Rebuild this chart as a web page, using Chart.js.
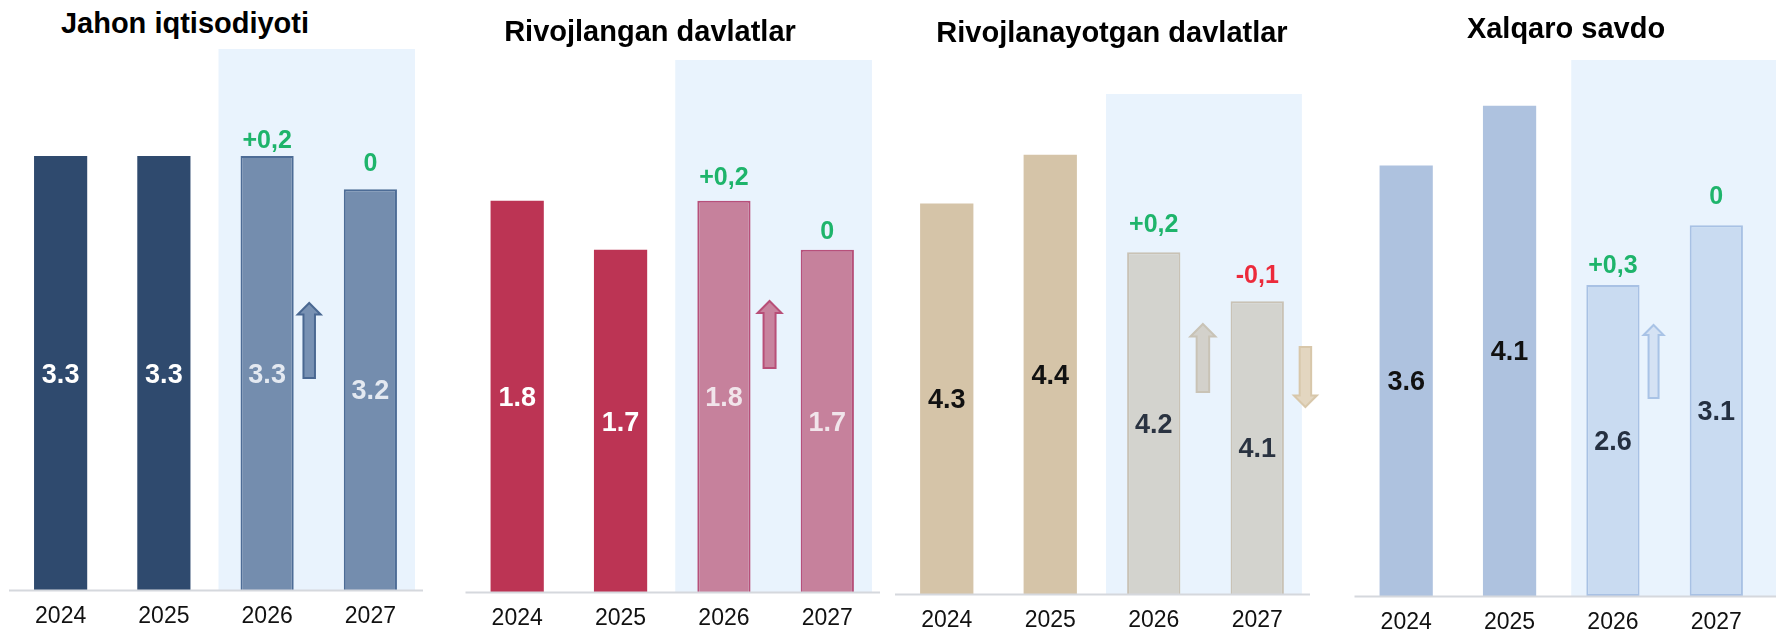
<!DOCTYPE html>
<html>
<head>
<meta charset="utf-8">
<script src="https://cdn.jsdelivr.net/npm/chart.js@4.4.1/dist/chart.umd.min.js"></script>
<style>
  html, body { margin: 0; padding: 0; background: #fff; }
  #wrap { position: relative; width: 1776px; height: 634px; overflow: hidden; }
  #wrap canvas { position: absolute; top: 0; }
  .title {
    position: absolute; width: 500px; text-align: center; white-space: nowrap;
    font: bold 29px "Liberation Sans", Arial, sans-serif; line-height: 29px; color: #000;
  }
</style>
</head>
<body>
<div id="wrap"></div>
<script>
const years = ['2024', '2025', '2026', '2027'];
const titles = ['Jahon iqtisodiyoti', 'Rivojlangan davlatlar', 'Rivojlanayotgan davlatlar', 'Xalqaro savdo'];

// o'sish sur'atlari, %
const worldGrowth = [3.3, 3.3, 3.3, 3.2];
const advancedGrowth = [1.8, 1.7, 1.8, 1.7];
const emergingGrowth = [4.3, 4.4, 4.2, 4.1];
const tradeGrowth = [3.6, 4.1, 2.6, 3.1];

// oldingi prognozga nisbatan o'zgarish (faqat prognoz yillari)
const worldChange = [null, null, 0.2, 0];
const advancedChange = [null, null, 0.2, 0];
const emergingChange = [null, null, 0.2, -0.1];
const tradeChange = [null, null, 0.3, 0];

// first two years are actual, last two are forecast
const forecastFrom = 2;

Chart.defaults.font.family = '"Liberation Sans", Arial, sans-serif';

const panels = [
    {
        title: titles[0], values: worldGrowth, change: worldChange,
        left: 0, width: 440, padL: 9, padR: 18, bottom: 590, yMin: 2.0, yMax: 3.647,
        titleX: 185, titleBase: 33,
        color: '#2F4A6E', fcColor: '#748DAE', fcBorder: '#4D6C96',
        text: '#FFFFFF', fcText: '#E4E9F1',
        shadeTop: 49, shadeInset: 3, shadeToEdge: false,
        lift: [0, 0, 17, 27],
        arrows: [{ bar: 2, dx: 15.5, top: 303, bottom: 378, w: 23, fill: '#7891B3', stroke: '#4A6892' }]
    },
    {
        title: titles[1], values: advancedGrowth, change: advancedChange,
        left: 440, width: 447, padL: 25.5, padR: 8, bottom: 592, yMin: 1.0, yMax: 2.129,
        titleX: 650, titleBase: 41,
        color: '#BC3454', fcColor: '#C6819C', fcBorder: '#B7507A',
        text: '#FFFFFF', fcText: '#F1E5EB',
        shadeTop: 60, shadeInset: 3, shadeToEdge: false,
        lift: [0, 0, 25, 20],
        arrows: [{ bar: 2, dx: 19, top: 301, bottom: 368, w: 24, fill: '#C8839E', stroke: '#B84F78' }]
    },
    {
        title: titles[2], values: emergingGrowth, change: emergingChange,
        left: 887, width: 453, padL: 8, padR: 31, bottom: 594, yMin: 3.5, yMax: 4.635,
        titleX: 1112, titleBase: 42,
        color: '#D5C4A8', fcColor: '#D3D3CE', fcBorder: '#C9C2B5',
        text: '#111111', fcText: '#2A3341',
        shadeTop: 94, shadeInset: 4, shadeToEdge: false,
        lift: [0, 0, 29, 27],
        arrows: [
            { bar: 2, dx: 22.5, top: 324, bottom: 392, w: 25, fill: '#D3D1CB', stroke: '#C9C3B6' },
            { bar: 3, dx: 21.5, top: 347, bottom: 407, w: 23, fill: '#E3D6C0', stroke: '#D8C7AA' }
        ]
    },
    {
        title: titles[3], values: tradeGrowth, change: tradeChange,
        left: 1340, width: 436, padL: 14.5, padR: 8, bottom: 596, yMin: 0, yMax: 4.649,
        titleX: 1566, titleBase: 38,
        color: '#AEC2DF', fcColor: '#C9DBF1', fcBorder: '#A8C1E4',
        text: '#111111', fcText: '#253041',
        shadeTop: 60, shadeInset: 10, shadeToEdge: true,
        lift: [0, 0, 21, 30],
        arrows: [{ bar: 2, dx: 14, top: 325, bottom: 398, w: 20, fill: '#D5E2F4', stroke: '#A9C3E6' }]
    }
];

function formatChange(v) {
    if (v === 0) return '0';
    return (v > 0 ? '+' : '-') + Math.abs(v).toFixed(1).replace('.', ',');
}

function drawArrow(ctx, cx, top, bottom, up, w, fill, stroke) {
    const s = w * 0.5;    // shaft
    const h = w * 0.5;    // head height
    ctx.beginPath();
    if (up) {
        ctx.moveTo(cx, top);
        ctx.lineTo(cx + w / 2, top + h);
        ctx.lineTo(cx + s / 2, top + h);
        ctx.lineTo(cx + s / 2, bottom);
        ctx.lineTo(cx - s / 2, bottom);
        ctx.lineTo(cx - s / 2, top + h);
        ctx.lineTo(cx - w / 2, top + h);
    } else {
        ctx.moveTo(cx, bottom);
        ctx.lineTo(cx + w / 2, bottom - h);
        ctx.lineTo(cx + s / 2, bottom - h);
        ctx.lineTo(cx + s / 2, top);
        ctx.lineTo(cx - s / 2, top);
        ctx.lineTo(cx - s / 2, bottom - h);
        ctx.lineTo(cx - w / 2, bottom - h);
    }
    ctx.closePath();
    ctx.fillStyle = fill;
    ctx.fill();
    ctx.lineWidth = 2;
    ctx.strokeStyle = stroke;
    ctx.stroke();
}

const panelDecor = {
    id: 'panelDecor',
    beforeDatasetsDraw(chart) {
        const p = chart.options.plugins.panelDecor.panel;
        const bars = chart.getDatasetMeta(0).data;
        const area = chart.chartArea;
        const ctx = chart.ctx;
        // forecast band
        const left = (bars[forecastFrom - 1].x + bars[forecastFrom].x) / 2 + p.shadeInset;
        const last = bars[bars.length - 1];
        const right = p.shadeToEdge ? chart.width : last.x + last.width / 2 + 18;
        ctx.save();
        ctx.fillStyle = '#E9F3FD';
        ctx.fillRect(left, p.shadeTop, right - left, area.bottom - p.shadeTop);
        ctx.restore();
    },
    afterDatasetsDraw(chart) {
        const p = chart.options.plugins.panelDecor.panel;
        const bars = chart.getDatasetMeta(0).data;
        const area = chart.chartArea;
        const ctx = chart.ctx;
        ctx.save();

        // base line
        ctx.strokeStyle = '#D5D8DD';
        ctx.lineWidth = 2;
        ctx.beginPath();
        ctx.moveTo(area.left, area.bottom + 0.5);
        ctx.lineTo(p.shadeToEdge ? chart.width : area.right + 1, area.bottom + 0.5);
        ctx.stroke();

        ctx.textAlign = 'center';
        ctx.textBaseline = 'alphabetic';

        // values inside bars (the bar base can sit below the visible axis)
        ctx.font = 'bold 27px "Liberation Sans", Arial, sans-serif';
        bars.forEach((bar, i) => {
            const mid = (bar.y + Math.min(bar.base, area.bottom)) / 2;
            ctx.fillStyle = i >= forecastFrom ? p.fcText : p.text;
            ctx.fillText(p.values[i].toFixed(1), bar.x, mid + 27 * 0.716 / 2);
        });

        // revisions above forecast bars
        ctx.font = 'bold 25px "Liberation Sans", Arial, sans-serif';
        p.change.forEach((v, i) => {
            if (v === null) return;
            const bar = bars[i];
            ctx.fillStyle = v < 0 ? '#EC2A3B' : '#1EB46B';
            ctx.fillText(formatChange(v), bar.x, bar.y - p.lift[i] + 25 * 0.716 / 2);
        });

        // arrows for revised years
        p.arrows.forEach(a => {
            const bar = bars[a.bar];
            const cx = bar.x + bar.width / 2 + a.dx;
            drawArrow(ctx, cx, a.top, a.bottom, p.change[a.bar] > 0, a.w, a.fill, a.stroke);
        });
        ctx.restore();
    }
};

const wrap = document.getElementById('wrap');

panels.forEach(p => {
    const t = document.createElement('div');
    t.className = 'title';
    t.textContent = p.title;
    t.style.left = (p.titleX - 250) + 'px';
    t.style.top = (p.titleBase - 24.5) + 'px';
    wrap.appendChild(t);

    const canvas = document.createElement('canvas');
    canvas.width = p.width;
    canvas.height = 634;
    canvas.style.left = p.left + 'px';
    wrap.appendChild(canvas);

    new Chart(canvas.getContext('2d'), {
        type: 'bar',
        data: {
            labels: years,
            datasets: [{
                data: p.values,
                backgroundColor: p.values.map((v, i) => i >= forecastFrom ? p.fcColor : p.color),
                borderColor: p.values.map((v, i) => i >= forecastFrom ? p.fcBorder : p.color),
                borderWidth: p.values.map((v, i) => i >= forecastFrom ? 2 : 0),
                borderSkipped: false,
                categoryPercentage: 1,
                barPercentage: 0.515
            }]
        },
        options: {
            responsive: false,
            animation: false,
            layout: { padding: { left: p.padL, right: p.padR, top: 40, bottom: 0 } },
            plugins: {
                legend: { display: false },
                tooltip: { enabled: false },
                panelDecor: { panel: p }
            },
            scales: {
                x: {
                    grid: { display: false, drawTicks: false },
                    border: { display: false },
                    ticks: {
                        padding: 13,
                        color: '#111111',
                        font: { size: 23 }
                    },
                    afterFit(scale) {
                        scale.height = 634 - p.bottom;
                    }
                },
                y: {
                    display: false,
                    min: p.yMin,
                    max: p.yMax
                }
            }
        },
        plugins: [panelDecor]
    });
});
</script>
</body>
</html>
